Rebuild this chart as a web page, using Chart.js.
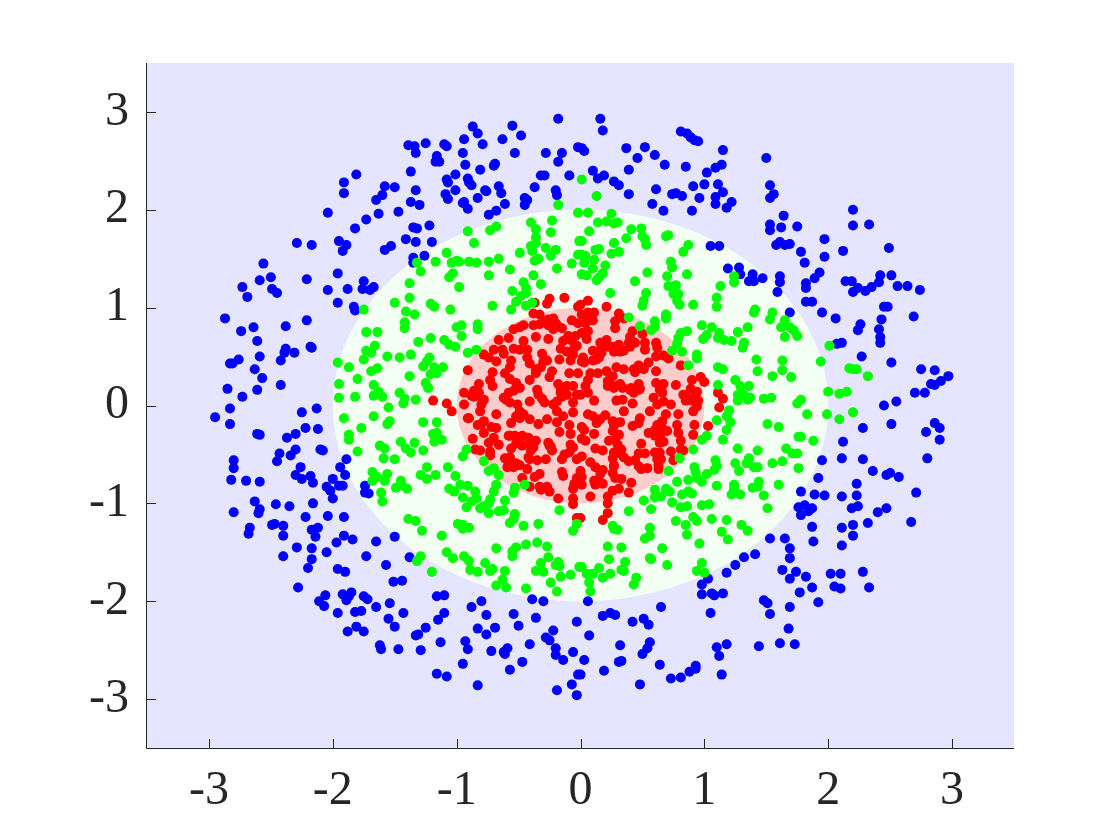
<!DOCTYPE html>
<html>
<head>
<meta charset="utf-8">
<title>Three class scatter</title>
<script src="https://cdn.jsdelivr.net/npm/chart.js@4"></script>
<style>
  html, body { margin: 0; background: #fff; }
  canvas { display: block; }
</style>
</head>
<body>
<canvas id="chart1" width="1120" height="840"></canvas>
<script>
const tickValues = [-3, -2, -1, 0, 1, 2, 3];
const regionRadii = [2, 1];

const bluePoints = [
  [-0.18,2.93],[-0.55,2.86],[-0.87,2.85],[-0.83,2.78],[-0.48,2.76],[-0.94,2.72],[-0.63,2.72],[-1.25,2.68],[-1.10,2.67],[-1.08,2.65],
  [-0.79,2.67],[-1.39,2.66],[-1.34,2.65],[-0.02,2.64],[-1.33,2.58],[-0.95,2.58],[-0.53,2.58],[-0.28,2.58],[-0.15,2.58],[-1.16,2.55],
  [-0.18,2.49],[-1.17,2.49],[-1.14,2.49],[-0.93,2.46],[-0.69,2.47],[-0.70,2.45],[-0.81,2.41],[-1.37,2.39],[-1.01,2.36],[-0.32,2.35],
  [-0.29,2.35],[-0.09,2.35],[-0.91,2.32],[-1.08,2.31],[-1.07,2.28],[-0.90,2.28],[-0.88,2.25],[-1.81,2.36],[-1.91,2.28],[-0.66,2.24],
  [-1.58,2.24],[-1.50,2.23],[-0.37,2.23],[-1.01,2.20],[-1.33,2.20],[-0.77,2.20],[-0.76,2.19],[-0.20,2.20],[-0.64,2.17],[-1.91,2.17],
  [-1.09,2.16],[-0.19,2.15],[-1.60,2.15],[-0.83,2.12],[-1.07,2.11],[-1.65,2.10],[-0.45,2.12],[-0.43,2.10],[-1.37,2.08],[-1.30,2.05],
  [-0.94,2.08],[-0.95,2.07],[-0.61,2.06],[-0.45,2.05],[-0.91,2.01],[-0.68,1.99],[-0.74,1.95],[-2.04,1.97],[-1.63,1.96],[-1.47,1.98],
  [-1.73,1.90],[-1.22,1.84],[-1.35,1.82],[-1.32,1.81],[-1.82,1.81],[-1.41,1.70],[-1.95,1.68],[-1.33,1.67],[-1.20,1.67],[-2.29,1.66],
  [-2.17,1.64],[-1.89,1.64],[-1.53,1.63],[-1.58,1.59],[-1.92,1.58],[-1.26,1.53],[-1.35,1.51],[-1.35,1.46],[-2.56,1.45],[-1.96,1.35],
  [-2.50,1.31],[-2.59,1.28],[-2.21,1.29],[-1.75,1.27],[-2.73,1.21],[-2.49,1.19],[-2.45,1.15],[-2.04,1.18],[-1.88,1.19],[-1.76,1.19],
  [-1.67,1.21],[-1.70,1.18],[-2.69,1.11],[-1.96,1.05],[-1.83,1.01],[-1.82,0.97],[-2.87,0.89],[-2.21,0.87],[-2.64,0.80],[-2.74,0.76],
  [-2.38,0.81],[-2.61,0.66],[-2.18,0.60],[-2.17,0.59],[-2.38,0.58],[-2.39,0.54],[-2.31,0.54],[-2.59,0.50],[-2.76,0.47],[-2.83,0.43],
  [-2.81,0.43],[-2.42,0.46],[-2.63,0.37],[-2.57,0.28],[-2.42,0.21],[-2.85,0.17],[-2.61,0.16],[-2.73,0.09],
  [0.16,2.93],[0.18,2.81],[0.81,2.80],[0.86,2.78],[0.89,2.74],[0.92,2.71],[0.95,2.70],[1.15,2.61],[0.37,2.63],[0.52,2.64],
  [0.60,2.56],[0.46,2.53],[0.01,2.63],[0.03,2.60],[1.50,2.53],[0.68,2.46],[0.85,2.44],[1.14,2.46],[1.09,2.43],[0.39,2.41],
  [1.02,2.38],[0.10,2.40],[0.19,2.35],[0.14,2.32],[0.27,2.29],[0.31,2.25],[0.91,2.24],[1.00,2.26],[1.11,2.26],[1.53,2.25],
  [0.61,2.21],[0.74,2.16],[0.77,2.17],[0.82,2.14],[1.15,2.18],[0.39,2.16],[1.56,2.16],[1.53,2.12],[0.96,2.12],[1.09,2.13],
  [1.09,2.06],[1.22,2.08],[1.18,2.02],[0.58,2.06],[0.67,1.99],[0.90,1.99],[2.20,2.00],[1.64,1.94],[1.53,1.85],[1.62,1.82],
  [1.75,1.83],[1.53,1.79],[2.20,1.84],[2.33,1.85],[1.97,1.70],[1.61,1.67],[1.58,1.64],[1.65,1.64],[1.69,1.65],[1.05,1.63],
  [1.12,1.63],[2.49,1.61],[1.78,1.57],[2.12,1.58],[1.97,1.52],[1.81,1.46],[1.19,1.40],[1.28,1.41],[1.29,1.34],[1.93,1.36],
  [1.89,1.30],[1.39,1.34],[1.36,1.27],[1.40,1.27],[1.47,1.30],[1.61,1.32],[1.61,1.26],[2.42,1.33],[2.51,1.33],[1.82,1.25],
  [1.82,1.20],[2.14,1.27],[2.19,1.27],[2.41,1.26],[2.35,1.21],[2.56,1.22],[2.64,1.22],[2.24,1.20],[2.30,1.17],[2.20,1.16],
  [2.74,1.18],[1.59,1.16],[1.82,1.06],[1.87,1.06],[2.45,1.01],[2.48,1.01],[1.69,0.95],[1.95,0.95],[2.06,0.89],[2.69,0.91],
  [2.43,0.88],[2.26,0.83],[2.24,0.77],[2.41,0.78],[2.42,0.70],[2.42,0.64],[2.11,0.64],[2.07,0.63],[2.27,0.50],[2.51,0.44],
  [2.75,0.37],[2.86,0.36],[2.97,0.30],[2.91,0.25],[2.86,0.21],[2.83,0.22],[2.70,0.13],[2.78,0.13],[2.55,0.04],
  [-2.95,-0.12],[-2.83,-0.03],[-2.83,-0.19],[-2.25,-0.07],[-2.13,-0.03],[-2.61,-0.29],[-2.59,-0.30],[-2.37,-0.33],[-2.30,-0.29],[-2.22,-0.23],
  [-2.12,-0.24],[-2.10,-0.45],[-2.08,-0.46],[-2.30,-0.45],[-2.43,-0.49],[-2.34,-0.51],[-2.45,-0.57],[-2.80,-0.56],[-2.80,-0.64],[-1.89,-0.55],
  [-1.94,-0.63],[-2.26,-0.63],[-1.90,-0.71],[-2.30,-0.71],[-2.18,-0.72],[-2.25,-0.75],[-2.16,-0.79],[-2.82,-0.76],[-2.70,-0.77],[-2.59,-0.78],
  [-2.00,-0.75],[-2.05,-0.83],[-1.95,-0.82],[-1.92,-0.82],[-2.02,-0.87],[-1.74,-0.82],[-1.74,-0.89],[-1.71,-0.90],[-2.00,-0.95],[-2.63,-0.98],
  [-2.46,-1.01],[-2.35,-1.03],[-2.16,-1.00],[-2.59,-1.06],[-2.60,-1.10],[-2.80,-1.09],[-2.22,-1.14],[-2.04,-1.13],[-1.91,-1.14],[-2.49,-1.22],
  [-2.47,-1.21],[-2.40,-1.23],[-2.67,-1.25],[-2.68,-1.31],[-2.12,-1.25],[-2.17,-1.27],[-2.14,-1.34],[-2.40,-1.33],[-1.91,-1.33],[-1.84,-1.37],
  [-1.50,-1.34],[-1.97,-1.40],[-1.65,-1.39],[-2.29,-1.45],[-2.17,-1.46],[-2.05,-1.50],[-2.40,-1.54],[-1.73,-1.54],[-1.38,-1.55],[-2.17,-1.57],
  [-1.57,-1.63],[-2.20,-1.66],[-1.96,-1.67],[-1.90,-1.70],[-1.51,-1.80],[-1.44,-1.79],[-2.28,-1.86],[-2.06,-1.94],[-1.92,-1.93],[-1.85,-1.91],
  [-1.87,-1.95],[-1.89,-1.99],[-1.75,-1.95],[-1.72,-1.98],[-1.16,-1.95],[-1.10,-1.94],[-2.11,-2.00],[-2.07,-2.05],[-1.54,-2.02],[-0.80,-2.00],
  [-0.39,-1.98],[-0.30,-2.00],[-0.88,-2.06],[-1.65,-2.06],[-1.96,-2.12],[-1.82,-2.11],[-1.77,-2.10],[-1.43,-2.12],[-1.10,-2.12],[-0.76,-2.14],
  [-0.54,-2.13],[-1.55,-2.18],[-1.15,-2.19],[-0.36,-2.17],[-0.03,-2.21],[-1.50,-2.26],[-0.50,-2.25],[-1.81,-2.26],[-1.25,-2.27],[-0.83,-2.28],
  [-0.69,-2.27],[-1.88,-2.31],[-1.75,-2.31],[-0.22,-2.30],[-0.76,-2.34],[-1.33,-2.35],[-1.31,-2.34],[-0.28,-2.37],[-0.25,-2.40],[-0.93,-2.41],
  [-1.13,-2.42],[-0.41,-2.44],[-1.62,-2.45],[-1.61,-2.49],[-1.47,-2.49],[-1.29,-2.50],[-0.91,-2.49],[-0.72,-2.51],[-0.59,-2.48],[-0.62,-2.52],
  [-0.61,-2.54],[-0.20,-2.48],[-0.20,-2.55],[-0.06,-2.52],[-0.14,-2.60],[-0.47,-2.62],[-0.95,-2.64],[-0.57,-2.70],[-1.16,-2.74],[-1.08,-2.77],
  [-0.83,-2.86],[-0.02,-2.75],[-0.07,-2.85],[-0.19,-2.91],[-0.03,-2.96],
  [2.45,0.00],[2.51,-0.19],[2.28,-0.23],[2.86,-0.18],[2.90,-0.23],[2.79,-0.27],[2.90,-0.35],[2.12,-0.37],[1.95,-0.56],[2.11,-0.54],
  [2.28,-0.55],[2.80,-0.54],[2.36,-0.67],[2.47,-0.71],[2.50,-0.69],[2.57,-0.73],[1.92,-0.74],[2.23,-0.80],[1.78,-0.88],[2.71,-0.89],
  [1.89,-0.91],[1.97,-0.92],[2.11,-0.93],[2.23,-0.92],[1.76,-1.04],[1.81,-1.02],[1.84,-1.08],[1.87,-1.05],[1.78,-1.12],[2.19,-1.05],
  [2.24,-1.03],[2.47,-1.05],[2.40,-1.09],[2.32,-1.20],[2.67,-1.19],[2.20,-1.22],[1.87,-1.24],[2.11,-1.25],[2.20,-1.33],[1.53,-1.36],
  [1.65,-1.36],[1.88,-1.39],[2.11,-1.43],[1.69,-1.46],[1.69,-1.56],[1.41,-1.52],[1.32,-1.55],[1.25,-1.63],[1.63,-1.68],[1.74,-1.70],
  [1.18,-1.71],[2.02,-1.72],[2.10,-1.72],[2.28,-1.70],[1.69,-1.77],[1.82,-1.75],[1.03,-1.77],[0.98,-1.83],[1.87,-1.86],[2.05,-1.85],
  [2.10,-1.87],[2.33,-1.86],[1.77,-1.91],[0.98,-1.93],[1.06,-1.92],[1.08,-1.94],[1.15,-1.92],[1.48,-1.99],[1.51,-2.02],[0.06,-2.00],
  [1.92,-2.01],[0.65,-2.06],[1.69,-2.06],[1.05,-2.12],[1.53,-2.13],[0.24,-2.12],[0.18,-2.15],[0.28,-2.14],[0.51,-2.18],[0.42,-2.21],
  [0.55,-2.24],[1.68,-2.28],[0.07,-2.35],[0.56,-2.42],[0.32,-2.45],[1.18,-2.44],[1.10,-2.47],[1.44,-2.46],[1.61,-2.43],[1.73,-2.44],
  [0.54,-2.48],[0.50,-2.54],[1.12,-2.56],[0.03,-2.60],[0.33,-2.61],[0.31,-2.62],[0.64,-2.65],[0.93,-2.66],[0.93,-2.69],[0.88,-2.72],
  [0.19,-2.71],[1.14,-2.75],[0.00,-2.75],[0.81,-2.78],[0.73,-2.79],[0.48,-2.85]
];

const greenPoints = [
  [-0.18,2.05],[0.01,2.31],[0.13,2.14],[-0.02,1.97],[-0.23,1.89],[-0.40,1.87],[-0.68,1.83],[-0.73,1.79],[-0.91,1.78],[-0.36,1.80],
  [-0.24,1.77],[-0.36,1.72],[-0.86,1.66],[-0.36,1.66],[-0.40,1.63],[-0.01,1.68],[-0.28,1.61],[-0.39,1.58],[-0.20,1.59],[-0.24,1.53],
  [-1.08,1.56],[-0.49,1.56],[-0.02,1.54],[-0.34,1.50],[-0.37,1.48],[-0.66,1.50],[-1.17,1.47],[-1.00,1.48],[-0.98,1.47],[-1.04,1.46],
  [-0.90,1.47],[-0.84,1.46],[-0.74,1.47],[-1.32,1.46],[-0.07,1.45],[-0.19,1.40],[-0.57,1.39],[-1.29,1.37],[-0.74,1.33],[-1.03,1.35],
  [-1.06,1.31],[-0.38,1.33],[-1.38,1.25],[-0.46,1.26],[-0.32,1.24],[-0.98,1.21],[-0.44,1.20],[-0.55,1.17],[-0.44,1.15],[-0.48,1.12],
  [-1.38,1.10],[-1.50,1.05],[-0.52,1.06],[-1.21,1.04],[-1.18,1.01],[-0.39,1.05],[-0.44,1.02],[-0.71,1.02],[-1.75,0.98],[-0.56,0.98],
  [-1.05,0.98],[-1.41,0.96],[-1.34,0.93],[-1.42,0.85],[-0.83,0.83],[-0.96,0.82],[-1.00,0.80],[-1.42,0.79],[-0.83,0.78],[-1.73,0.75],
  [-1.64,0.75],[-0.96,0.71],[-1.21,0.69],[-1.31,0.65],[-1.10,0.67],[-1.06,0.62],[-1.01,0.60],[-1.66,0.61],[-1.73,0.56],[-1.69,0.54],
  [-0.84,0.57],[-0.91,0.54],[-1.37,0.52],[-1.56,0.50],[-1.46,0.49],[-1.22,0.49],[-1.75,0.47],[-1.24,0.45],[-1.96,0.44],[-1.27,0.40],
  [-1.87,0.39],[-1.18,0.39],[-1.11,0.39],[-1.64,0.38],[-1.69,0.35],[-1.16,0.33],[-1.21,0.32],[-1.38,0.30],[-1.80,0.27],[-1.25,0.23],
  [-1.95,0.22],[-1.67,0.21],[-1.23,0.18],[-1.63,0.14],[-1.46,0.13],[-1.67,0.10],[-1.60,0.09],[-1.82,0.09],[-1.95,0.08],[-1.42,0.07],[-1.33,0.06],
  [0.06,1.97],[0.25,1.96],[0.14,1.87],[0.21,1.88],[0.27,1.86],[0.30,1.87],[0.07,1.78],[0.41,1.80],[0.49,1.81],[0.50,1.73],
  [0.52,1.70],[0.37,1.71],[0.69,1.73],[0.71,1.74],[0.01,1.68],[0.27,1.66],[0.87,1.64],[0.53,1.64],[0.15,1.60],[0.12,1.59],
  [0.83,1.57],[0.31,1.57],[0.25,1.55],[0.01,1.54],[0.04,1.53],[0.11,1.49],[0.03,1.46],[0.73,1.47],[0.74,1.41],[0.20,1.43],
  [0.10,1.40],[0.54,1.36],[0.01,1.34],[0.05,1.33],[0.18,1.35],[0.15,1.31],[0.86,1.34],[0.70,1.32],[0.13,1.28],[0.44,1.27],
  [1.24,1.32],[1.24,1.26],[0.71,1.22],[0.77,1.23],[1.13,1.22],[0.24,1.15],[0.53,1.15],[0.75,1.14],[0.79,1.14],[0.51,1.07],
  [0.78,1.07],[1.10,1.10],[0.50,1.02],[0.80,1.03],[0.91,1.03],[1.10,1.01],[1.41,0.98],[1.40,0.95],[1.55,0.95],[0.69,0.93],
  [0.69,0.89],[1.53,0.88],[0.39,0.90],[1.65,0.87],[0.60,0.86],[0.98,0.82],[0.48,0.81],[0.60,0.80],[1.35,0.80],[1.06,0.80],
  [1.62,0.80],[1.69,0.80],[0.57,0.77],[1.72,0.77],[0.86,0.76],[0.81,0.74],[1.27,0.75],[1.12,0.74],[1.75,0.71],[1.02,0.72],
  [0.79,0.69],[1.65,0.70],[1.11,0.69],[0.99,0.68],[1.16,0.67],[1.22,0.66],[1.32,0.64],[0.78,0.63],[2.01,0.61],[1.31,0.59],
  [0.74,0.56],[0.82,0.55],[0.94,0.52],[0.94,0.48],[1.42,0.47],[1.63,0.46],[1.94,0.45],[0.87,0.41],[1.11,0.39],[1.15,0.37],
  [2.17,0.38],[2.20,0.37],[2.23,0.37],[1.63,0.36],[1.43,0.35],[1.55,0.30],[1.70,0.29],[2.32,0.30],[1.25,0.26],[1.11,0.21],
  [1.29,0.20],[1.36,0.20],[2.00,0.14],[2.09,0.12],[2.15,0.14],[1.27,0.11],[1.32,0.11],[1.37,0.08],[1.48,0.07],[1.54,0.08],[1.78,0.06],
  [-1.55,-0.02],[-1.43,0.02],[-1.91,-0.13],[-1.67,-0.11],[-1.27,-0.17],[-1.16,-0.17],[-1.54,-0.16],[-1.56,-0.19],[-1.77,-0.23],[-1.87,-0.30],
  [-1.87,-0.35],[-1.19,-0.29],[-1.16,-0.28],[-1.12,-0.35],[-1.18,-0.37],[-1.45,-0.37],[-1.34,-0.38],[-1.62,-0.41],[-1.58,-0.44],[-1.41,-0.44],
  [-1.37,-0.48],[-1.80,-0.47],[-1.27,-0.46],[-0.92,-0.45],[-0.95,-0.52],[-1.59,-0.54],[-1.50,-0.55],[-0.78,-0.57],[-1.07,-0.63],[-1.24,-0.63],
  [-0.70,-0.64],[-0.74,-0.67],[-1.68,-0.68],[-1.56,-0.70],[-1.29,-0.71],[-1.17,-0.71],[-1.64,-0.73],[-0.66,-0.71],[-1.01,-0.72],[-1.24,-0.75],
  [-1.68,-0.77],[-1.58,-0.77],[-1.45,-0.77],[-0.45,-0.81],[-0.97,-0.81],[-0.91,-0.82],[-0.68,-0.81],[-1.44,-0.82],[-1.49,-0.84],[-1.40,-0.85],
  [-1.06,-0.85],[-0.53,-0.84],[-0.85,-0.88],[-1.02,-0.88],[-0.54,-0.89],[-0.70,-0.88],[-1.61,-0.89],[-0.95,-0.94],[-0.84,-0.95],[-0.73,-0.96],
  [-0.88,-0.98],[-1.60,-0.98],[-0.61,-0.97],[-0.74,-1.00],[-0.78,-1.03],[-0.92,-1.04],[-0.81,-1.05],[-0.17,-1.07],[-0.62,-1.07],[-0.66,-1.08],
  [-0.74,-1.10],[-0.53,-1.11],[-0.54,-1.16],[-1.39,-1.16],[-1.33,-1.18],[-0.57,-1.20],[-0.99,-1.21],[-0.34,-1.21],[-0.03,-1.21],[-0.95,-1.22],
  [-0.46,-1.23],[-0.90,-1.25],[-0.95,-1.26],[-1.28,-1.28],[-0.06,-1.28],[-1.12,-1.33],[-0.35,-1.40],[-0.44,-1.42],[-0.27,-1.44],[-0.52,-1.45],
  [-0.68,-1.46],[-0.55,-1.49],[-1.08,-1.50],[-1.29,-1.54],[-0.55,-1.54],[-0.94,-1.54],[-0.26,-1.55],[-1.03,-1.56],[-1.32,-1.59],[-0.90,-1.59],
  [-0.77,-1.61],[-0.18,-1.60],[-0.32,-1.61],[-0.20,-1.63],[-0.17,-1.64],[-0.01,-1.65],[-0.71,-1.67],[-0.89,-1.68],[-0.73,-1.69],[-0.83,-1.70],
  [-0.61,-1.69],[-0.36,-1.69],[-0.30,-1.70],[-1.20,-1.70],[-0.08,-1.73],[-0.16,-1.75],[-0.63,-1.78],[-0.24,-1.81],[-0.68,-1.84],[-0.60,-1.86],
  [-0.44,-1.87],[-0.19,-1.90],
  [1.27,0.05],[1.35,0.06],[1.75,0.02],[1.20,-0.05],[1.18,-0.11],[1.83,-0.09],[1.99,-0.09],[2.20,-0.07],[2.09,-0.14],[1.10,-0.15],
  [1.21,-0.17],[1.51,-0.19],[1.60,-0.22],[1.18,-0.25],[1.02,-0.31],[1.76,-0.32],[1.78,-0.32],[0.98,-0.35],[1.15,-0.35],[1.88,-0.36],
  [1.27,-0.44],[1.66,-0.44],[0.91,-0.45],[1.43,-0.46],[1.71,-0.49],[1.75,-0.49],[1.36,-0.54],[0.80,-0.54],[1.09,-0.56],[1.25,-0.59],
  [1.55,-0.59],[1.63,-0.57],[1.34,-0.59],[1.10,-0.62],[0.92,-0.63],[1.40,-0.63],[1.43,-0.63],[1.76,-0.64],[1.08,-0.66],[1.28,-0.67],
  [0.71,-0.67],[0.93,-0.68],[1.02,-0.70],[0.94,-0.74],[0.87,-0.76],[0.98,-0.78],[0.78,-0.78],[1.44,-0.78],[1.60,-0.81],[1.24,-0.81],
  [1.10,-0.82],[1.43,-0.83],[1.39,-0.84],[0.60,-0.86],[0.69,-0.85],[0.72,-0.88],[1.24,-0.85],[0.87,-0.88],[0.90,-0.90],[0.82,-0.91],
  [1.22,-0.91],[1.29,-0.91],[1.48,-0.92],[0.60,-0.94],[0.65,-0.93],[0.51,-0.97],[0.74,-0.99],[0.98,-1.02],[1.04,-1.01],[0.81,-1.04],
  [0.86,-1.03],[0.57,-1.06],[1.51,-1.05],[0.39,-1.08],[0.91,-1.14],[1.06,-1.16],[1.18,-1.17],[0.94,-1.18],[0.77,-1.18],[0.85,-1.22],
  [1.30,-1.22],[0.26,-1.23],[0.56,-1.25],[0.27,-1.26],[0.30,-1.27],[1.14,-1.29],[1.35,-1.28],[0.86,-1.32],[0.56,-1.33],[0.52,-1.36],
  [1.19,-1.37],[0.96,-1.41],[0.22,-1.44],[0.33,-1.45],[0.66,-1.46],[0.56,-1.56],[0.57,-1.57],[0.23,-1.57],[0.36,-1.60],[0.70,-1.63],
  [0.98,-1.61],[0.94,-1.69],[1.00,-1.71],[0.01,-1.65],[0.15,-1.66],[0.33,-1.68],[0.35,-1.69],[0.05,-1.72],[0.10,-1.72],[0.24,-1.72],
  [0.18,-1.76],[0.45,-1.76],[0.43,-1.83],[0.07,-1.81],[0.08,-1.90]
];

const redPoints = [
  [-0.37,1.05],[-0.13,1.10],[-0.25,1.09],[-0.27,1.04],[-0.02,1.01],[-0.38,0.94],[-0.33,0.93],[-0.22,0.89],[-0.26,0.88],[-0.07,0.87],
  [-0.02,0.84],[-0.38,0.82],[-0.33,0.83],[-0.26,0.82],[-0.20,0.84],[-0.46,0.82],[-0.49,0.80],[-0.54,0.78],[-0.15,0.79],[-0.22,0.78],
  [-0.36,0.70],[-0.10,0.71],[-0.04,0.71],[-0.58,0.69],[-0.66,0.67],[-0.26,0.68],[-0.46,0.66],[-0.14,0.66],[-0.16,0.58],[-0.05,0.59],
  [-0.54,0.58],[-0.49,0.57],[-0.43,0.57],[-0.70,0.57],[-0.63,0.57],[-0.78,0.52],[-0.74,0.49],[-0.62,0.53],[-0.43,0.49],[-0.31,0.53],
  [-0.27,0.46],[-0.68,0.45],[-0.56,0.46],[-0.06,0.52],[-0.08,0.46],[-0.41,0.43],[-0.17,0.47],[-0.57,0.39],[-0.32,0.39],[-0.91,0.36],
  [-0.71,0.34],[-0.61,0.33],[-0.36,0.33],[-0.23,0.35],[-0.09,0.33],[-0.02,0.33],[-0.25,0.29],[-0.73,0.26],[-0.57,0.27],[-0.41,0.26],
  [-0.82,0.22],[-0.71,0.20],[-0.18,0.22],[-0.06,0.20],[-0.49,0.18],[-0.54,0.15],[-0.16,0.17],[-0.35,0.16],[-0.94,0.13],[-0.86,0.15],
  [-0.58,0.13],[-0.82,0.13],[-0.11,0.11],[-0.34,0.11],[-0.03,0.11],[-0.86,0.09],[-0.62,0.08],[-0.19,0.04],[-0.15,0.09],[-0.41,0.04],
  [-0.31,0.07],[-0.79,0.05],[-0.94,0.01],[-0.80,0.01],[-1.19,0.05],[-1.08,0.02],[-0.57,0.03],[-0.51,0.01],[-0.06,0.03],
  [-0.29,0.86],[-0.18,0.81],[-0.08,0.67],[-0.03,0.61],[-0.11,0.55],[-0.30,0.45],[-0.36,0.37],[-0.52,0.23],[-0.11,0.20],[-0.16,0.13],
  [-0.88,0.10],[-0.60,0.06],[-0.29,0.03],[-0.22,0.01],[-0.78,0.06],
  [0.06,1.07],[0.21,1.01],[0.00,1.03],[0.11,0.95],[0.06,0.95],[0.01,0.93],[0.10,0.87],[0.31,0.94],[0.35,0.89],[0.28,0.86],
  [0.28,0.79],[0.06,0.76],[0.42,0.76],[0.50,0.73],[0.05,0.68],[0.01,0.74],[0.40,0.70],[0.21,0.67],[0.16,0.64],[0.39,0.64],
  [0.26,0.60],[0.31,0.62],[0.44,0.64],[0.52,0.64],[0.61,0.64],[0.62,0.59],[0.52,0.57],[0.35,0.56],[0.10,0.56],[0.17,0.54],
  [0.27,0.55],[0.15,0.49],[0.02,0.49],[0.61,0.50],[0.67,0.51],[0.71,0.48],[0.10,0.46],[0.03,0.44],[0.55,0.44],[0.29,0.39],
  [0.35,0.37],[0.81,0.41],[0.47,0.41],[0.43,0.37],[0.51,0.38],[0.61,0.35],[0.21,0.35],[0.08,0.33],[0.14,0.33],[0.44,0.34],
  [0.26,0.30],[0.06,0.26],[0.90,0.26],[0.97,0.29],[1.00,0.24],[0.22,0.25],[0.61,0.23],[0.77,0.21],[0.47,0.22],[0.67,0.22],
  [0.32,0.22],[0.22,0.20],[0.27,0.18],[0.04,0.20],[0.41,0.18],[0.65,0.18],[0.89,0.17],[0.34,0.18],[0.48,0.17],[0.94,0.14],
  [0.06,0.13],[0.43,0.13],[0.66,0.13],[0.83,0.11],[1.11,0.13],[1.15,0.07],[0.59,0.08],[0.34,0.06],[0.29,0.05],[0.11,0.05],
  [0.90,0.05],[0.95,0.05],[0.85,0.05],[0.42,0.02],[0.67,0.04],[0.62,0.01],[0.73,0.01],[0.94,-0.01],[1.12,-0.02],[0.00,0.11],
  [0.07,0.91],[0.04,0.84],[0.04,0.74],[0.17,0.60],[0.22,0.60],[0.32,0.55],[0.40,0.60],[0.01,0.45],[0.13,0.47],[0.51,0.37],
  [0.27,0.20],[0.40,0.16],[0.47,0.16],[0.64,0.16],[0.86,0.08],[0.93,0.10],
  [-1.04,-0.06],[-0.91,-0.13],[-0.90,-0.13],[-0.81,-0.06],[-0.68,-0.09],[-0.49,-0.06],[-0.19,-0.06],[-0.06,-0.07],[-0.41,-0.14],[-0.49,-0.13],
  [-0.78,-0.16],[-0.56,-0.18],[-0.34,-0.19],[-0.27,-0.14],[-0.19,-0.17],[-0.83,-0.20],[-0.72,-0.22],[-0.68,-0.23],[-0.09,-0.20],[-0.17,-0.27],
  [-0.78,-0.28],[-0.58,-0.31],[-0.53,-0.31],[-0.47,-0.31],[-0.87,-0.34],[-0.70,-0.33],[-0.08,-0.29],[-0.42,-0.33],[-0.74,-0.38],[-0.66,-0.40],
  [-0.52,-0.39],[-0.36,-0.36],[-0.26,-0.38],[-0.40,-0.40],[-0.47,-0.41],[-0.08,-0.40],[-0.24,-0.42],[-0.85,-0.45],[-0.81,-0.46],[-0.40,-0.46],
  [-0.56,-0.44],[-0.73,-0.47],[-0.09,-0.48],[-0.13,-0.50],[-0.23,-0.46],[-0.73,-0.51],[-0.57,-0.53],[-0.42,-0.53],[-0.35,-0.56],[-0.28,-0.55],
  [-0.15,-0.55],[-0.61,-0.54],[-0.03,-0.55],[-0.59,-0.63],[-0.49,-0.61],[-0.43,-0.65],[-0.54,-0.63],[-0.15,-0.68],[-0.14,-0.72],[-0.33,-0.70],
  [-0.37,-0.73],[-0.47,-0.74],[-0.03,-0.74],[-0.05,-0.80],[-0.41,-0.83],[-0.33,-0.83],[-0.27,-0.83],[-0.25,-0.88],[-0.06,-0.85],[-0.32,-0.86],
  [-0.18,-0.95],[-0.06,-0.95],[-0.06,-1.01],[-0.03,-1.15],
  [-0.52,-0.11],[-0.46,-0.09],[-0.14,-0.11],[-0.80,-0.19],[-0.57,-0.31],[-0.50,-0.36],[-0.38,-0.43],[-0.25,-0.41],[-0.41,-0.55],[-0.57,-0.60],
  [-0.52,-0.59],[-0.06,-0.43],
  [0.01,-0.22],[0.06,-0.09],[0.20,-0.10],[0.13,-0.18],[0.26,-0.16],[0.32,-0.17],[0.35,-0.06],[0.48,-0.13],[0.47,-0.18],[0.42,-0.21],
  [0.56,-0.06],[0.69,-0.09],[0.79,-0.09],[0.91,-0.06],[0.66,-0.16],[0.62,-0.20],[1.03,-0.21],[0.78,-0.20],[0.92,-0.20],[0.03,-0.25],
  [0.11,-0.29],[0.26,-0.26],[0.31,-0.30],[0.55,-0.28],[0.70,-0.26],[0.60,-0.31],[0.65,-0.29],[0.79,-0.28],[0.91,-0.30],[0.01,-0.34],
  [0.04,-0.36],[0.23,-0.36],[0.49,-0.39],[0.81,-0.36],[0.67,-0.37],[0.30,-0.40],[0.12,-0.44],[0.18,-0.46],[0.81,-0.45],[0.60,-0.48],
  [0.64,-0.48],[0.73,-0.47],[0.83,-0.46],[0.27,-0.48],[0.47,-0.49],[0.01,-0.52],[0.32,-0.49],[0.35,-0.53],[0.52,-0.49],[0.26,-0.54],
  [0.75,-0.56],[0.65,-0.55],[0.44,-0.56],[0.08,-0.58],[0.39,-0.57],[0.63,-0.61],[0.12,-0.63],[0.47,-0.62],[0.27,-0.61],[0.49,-0.65],
  [0.00,-0.67],[0.18,-0.66],[0.54,-0.64],[0.63,-0.65],[0.26,-0.69],[0.16,-0.70],[0.01,-0.73],[0.28,-0.74],[0.11,-0.77],[0.33,-0.75],
  [0.41,-0.79],[0.18,-0.80],[0.12,-0.81],[0.01,-0.81],[0.31,-0.85],[0.26,-0.87],[0.39,-0.89],[0.08,-0.93],[0.22,-0.93],[0.22,-1.00],
  [0.22,-1.10],[0.18,-1.17],[0.00,-1.15],
  [0.10,-0.11],[0.16,-0.14],[0.27,-0.21],[0.28,-0.35],[0.60,-0.25],[0.66,-0.23],[0.64,-0.38],[0.33,-0.45],[0.62,-0.55],[0.27,-0.62],[0.15,-0.77]
];

const toXY = (points) => points.map(([x, y]) => ({ x, y }));

// background regions and inward tick marks
const regions = {
  id: "regions",
  beforeDatasetsDraw(chart) {
    const { ctx, chartArea, scales } = chart;
    const { x, y } = scales;
    ctx.save();
    ctx.fillStyle = "#e5e5ff";
    ctx.fillRect(chartArea.left, chartArea.top, chartArea.width, chartArea.height);
    ["#f3fff3", "#ffcccc"].forEach((color, i) => {
      const r = regionRadii[i];
      ctx.fillStyle = color;
      ctx.beginPath();
      ctx.ellipse(
        x.getPixelForValue(0),
        y.getPixelForValue(0),
        x.getPixelForValue(r) - x.getPixelForValue(0),
        y.getPixelForValue(0) - y.getPixelForValue(r),
        0, 0, Math.PI * 2
      );
      ctx.fill();
    });
    ctx.restore();
  },
  afterDraw(chart) {
    const { ctx, chartArea, scales } = chart;
    ctx.save();
    ctx.strokeStyle = "#262626";
    ctx.lineWidth = 1;
    ctx.beginPath();
    // axis lines sit on top of the plot background
    ctx.moveTo(chartArea.left - 0.5, chartArea.top);
    ctx.lineTo(chartArea.left - 0.5, chartArea.bottom + 0.5);
    ctx.lineTo(chartArea.right, chartArea.bottom + 0.5);
    tickValues.forEach((v) => {
      const px = Math.round(scales.x.getPixelForValue(v)) + 0.5;
      const py = Math.round(scales.y.getPixelForValue(v)) + 0.5;
      ctx.moveTo(px, chartArea.bottom);
      ctx.lineTo(px, chartArea.bottom - 9);
      ctx.moveTo(chartArea.left, py);
      ctx.lineTo(chartArea.left + 9, py);
    });
    ctx.stroke();
    ctx.restore();
  },
};

const axis = (size, padding) => ({
  type: "linear",
  min: -3.5,
  max: 3.5,
  grid: { display: false, drawTicks: false },
  border: { display: false },
  afterBuildTicks: (scale) => {
    scale.ticks = tickValues.map((value) => ({ value }));
  },
  afterFit: (scale) => {
    if (scale.isHorizontal()) scale.height = size;
    else scale.width = size;
  },
  ticks: {
    autoSkip: false,
    maxRotation: 0,
    padding,
    color: "#262626",
    font: { family: "'Liberation Serif', 'Times New Roman', serif", size: 48 },
    callback: (value) => String(value),
  },
});

new Chart(document.getElementById("chart1"), {
  type: "scatter",
  data: {
    datasets: [
      { label: "green", data: toXY(greenPoints), backgroundColor: "#00ff00" },
      { label: "blue", data: toXY(bluePoints), backgroundColor: "#0000ff" },
      { label: "red", data: toXY(redPoints), backgroundColor: "#ff0000" },
    ],
  },
  options: {
    responsive: false,
    animation: false,
    layout: { padding: { top: 63, right: 106 } },
    elements: { point: { radius: 5, borderWidth: 0 } },
    plugins: { legend: { display: false }, tooltip: { enabled: false } },
    scales: {
      x: axis(92, 15),
      y: axis(147, 18),
    },
  },
  plugins: [regions],
});
</script>
</body>
</html>
